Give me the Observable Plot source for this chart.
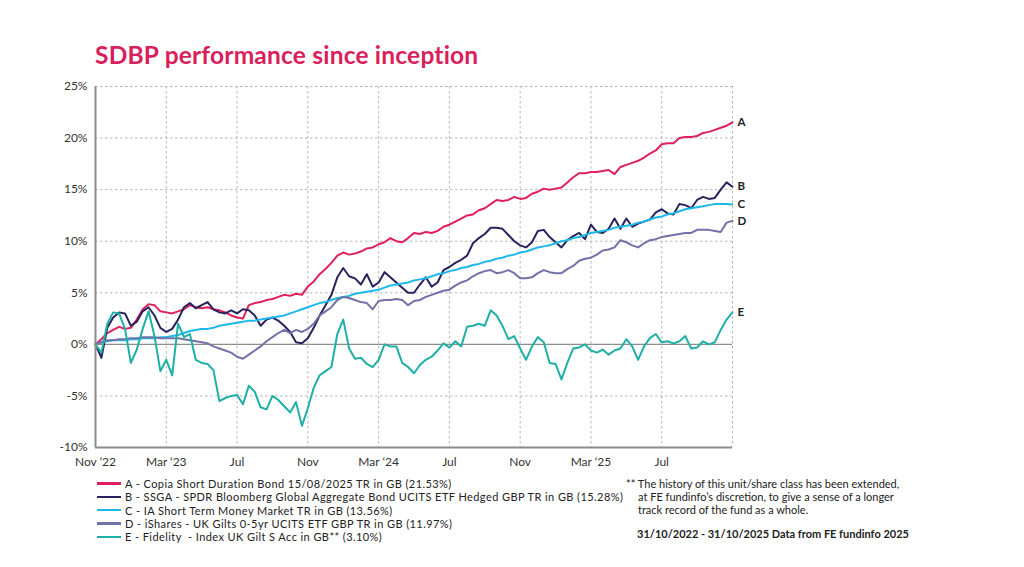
<!DOCTYPE html>
<html><head><meta charset="utf-8">
<script src="https://cdn.jsdelivr.net/npm/d3@7"></script>
<script src="https://cdn.jsdelivr.net/npm/@observablehq/plot@0.6"></script>
<style>
body{margin:0;background:#fff;font-family:Lato,"Open Sans",sans-serif;width:1024px;height:567px;position:relative;overflow:hidden}
#title{position:absolute;left:95px;top:40px;font-size:24.5px;letter-spacing:0.2px;font-weight:700;color:#d91e5c;white-space:nowrap}
#chart{position:absolute;left:0;top:0}
#legend{position:absolute;left:97px;top:477px;font-size:11px;letter-spacing:0.42px;color:#222;line-height:13.3px}
.item{display:flex;align-items:center;white-space:pre;height:13.3px}
.sw{width:24px;height:2.5px;margin-right:4px}
#notes{position:absolute;left:626px;top:477px;font-size:11px;color:#222;line-height:13.2px;white-space:nowrap}
#notes .d{margin-top:10px;margin-left:11px;font-weight:700}
#notes .ind{padding-left:12px}
</style></head><body>
<div id="title">SDBP performance since inception</div>
<div id="chart"></div>
<div id="legend"></div>
<div id="notes">
<div>** The history of this unit/share class has been extended,</div>
<div class="ind">at FE fundinfo’s discretion, to give a sense of a longer</div>
<div class="ind">track record of the fund as a whole.</div>
<div class="d">31/10/2022 - 31/10/2025 Data from FE fundinfo 2025</div>
</div>
<script>
// x: samples every 1/3 month from 31/10/2022 (index i -> i/3 months)
const tickMonths = [0, 4, 8, 12, 16, 20, 24, 28, 32];
const tickLabels = ["Nov ’22", "Mar ‘23", "Jul", "Nov", "Mar ‘24", "Jul", "Nov", "Mar ‘25", "Jul"];
const yTicks = [-10, -5, 0, 5, 10, 15, 20, 25];

const seriesKeys = ["A", "B", "C", "D", "E"];
const seriesNames = [
  "A - Copia Short Duration Bond 15/08/2025 TR in GB (21.53%)",
  "B - SSGA - SPDR Bloomberg Global Aggregate Bond UCITS ETF Hedged GBP TR in GB (15.28%)",
  "C - IA Short Term Money Market TR in GB (13.56%)",
  "D - iShares - UK Gilts 0-5yr UCITS ETF GBP TR in GB (11.97%)",
  "E - Fidelity  - Index UK Gilt S Acc in GB** (3.10%)"
];
const seriesColors = ["#e0205c", "#26235f", "#1fb8ea", "#7271a8", "#1eb0a6"];

const valuesA = [0,0.5,1.1,1.4,1.7,1.5,1.6,2.4,3.4,3.9,3.8,3.2,3.1,3.0,3.2,3.4,3.8,3.6,3.5,3.6,3.4,3.3,3.1,2.8,2.6,2.5,3.8,4.0,4.1,4.3,4.4,4.6,4.8,4.7,4.9,4.8,5.6,6.1,6.8,7.3,7.9,8.6,8.9,8.7,8.8,9.0,9.3,9.4,9.7,9.9,10.3,10.0,9.9,10.3,10.8,10.7,10.9,10.8,11.0,11.4,11.6,11.9,12.2,12.5,12.6,13.0,13.2,13.6,14.0,13.9,14.0,14.3,14.1,14.2,14.6,14.8,15.1,15.0,15.1,15.2,15.7,16.2,16.6,16.6,16.7,16.7,16.8,16.9,16.5,17.2,17.4,17.6,17.8,18.1,18.5,18.8,19.4,19.5,19.5,20.0,20.1,20.1,20.2,20.5,20.6,20.8,21.0,21.2,21.53];
const valuesB = [0,-1.3,1.6,2.6,3.1,3.0,1.8,2.2,3.2,3.6,2.8,1.6,1.2,1.5,2.4,3.6,4.0,3.5,3.8,4.1,3.4,3.1,3.0,3.3,3.0,3.4,3.3,2.8,1.8,2.4,2.6,2.3,1.8,1.2,0.2,0.1,0.6,1.6,2.8,3.8,4.8,6.5,7.4,6.6,6.4,5.8,6.8,5.6,6.0,7.0,6.5,6.0,5.5,5.0,5.0,5.8,6.5,5.6,6.0,7.2,7.5,7.9,8.2,8.6,9.8,10.3,10.7,11.3,11.3,11.2,10.6,10.0,9.6,9.4,9.9,11.0,11.1,10.4,9.9,9.4,10.1,10.5,10.8,10.2,11.6,10.9,10.8,11.2,12.2,11.2,12.2,11.4,11.7,11.9,12.1,12.8,13.1,12.7,12.6,13.6,13.5,13.2,14.0,14.3,14.1,14.2,15.0,15.7,15.28];
const valuesC = [0,0.2,0.3,0.4,0.4,0.4,0.5,0.5,0.6,0.6,0.6,0.7,0.7,0.8,0.9,1.1,1.3,1.4,1.5,1.5,1.6,1.8,1.9,2.0,2.1,2.2,2.3,2.3,2.4,2.5,2.6,2.7,2.8,3.0,3.2,3.4,3.6,3.8,4.0,4.1,4.3,4.5,4.6,4.7,4.9,5.0,5.1,5.2,5.3,5.5,5.7,5.8,5.9,6.0,6.2,6.3,6.4,6.6,6.8,6.9,7.1,7.2,7.4,7.5,7.7,7.8,8.0,8.1,8.3,8.4,8.6,8.7,8.9,9.0,9.2,9.4,9.5,9.6,9.8,10.0,10.1,10.3,10.4,10.6,10.8,10.9,11.0,11.1,11.3,11.4,11.5,11.6,11.8,11.9,12.1,12.3,12.4,12.6,12.7,12.9,13.1,13.2,13.3,13.4,13.5,13.6,13.6,13.6,13.56];
const valuesD = [0,0.2,0.4,0.4,0.5,0.5,0.6,0.6,0.7,0.7,0.7,0.6,0.6,0.6,0.6,0.5,0.4,0.3,0.2,0.1,-0.2,-0.4,-0.6,-0.8,-1.2,-1.4,-1.0,-0.6,-0.2,0.3,0.7,1.1,1.4,1.1,1.4,1.2,1.5,2.0,2.8,3.2,3.6,4.3,4.6,4.5,4.3,4.1,4.0,3.4,4.2,4.3,4.3,4.4,4.3,3.8,4.2,4.3,4.6,4.8,5.0,5.2,5.3,5.7,6.0,6.2,6.6,6.9,7.1,7.2,6.9,7.0,7.2,6.9,6.4,6.4,6.5,6.9,7.2,7.0,6.9,6.9,7.3,7.6,8.1,8.3,8.4,8.7,9.1,9.2,9.4,10.1,9.9,9.6,9.4,9.8,10.1,10.2,10.4,10.5,10.6,10.7,10.8,10.8,11.1,11.1,11.1,11.0,10.9,11.8,11.97];
const valuesE = [0,-0.8,2.0,3.1,3.0,1.5,-1.8,-0.5,1.5,3.2,0.8,-2.6,-1.5,-3.0,2.0,0.7,1.0,-1.5,-1.8,-1.9,-2.5,-5.5,-5.2,-5.0,-4.9,-5.8,-4.0,-4.6,-6.1,-6.3,-5.0,-5.4,-6.0,-6.6,-5.6,-7.9,-6.2,-4.2,-3.0,-2.6,-2.2,1.0,2.4,-0.4,-1.4,-1.3,-1.9,-2.2,-1.5,0.0,-0.2,-0.2,-1.8,-2.2,-2.8,-2.0,-1.5,-1.2,-0.6,0.1,-0.3,0.3,-0.2,1.7,1.8,2.0,1.8,3.3,2.8,1.8,0.5,0.8,-0.4,-1.5,-0.2,0.7,0.2,-1.8,-1.9,-3.4,-1.8,-0.4,-0.3,0.0,-0.6,-0.8,-0.5,-1.0,-0.6,-0.4,0.5,-0.2,-1.5,-0.2,0.6,1.0,0.2,0.3,0.1,0.3,0.8,-0.4,-0.3,0.3,0.0,0.2,1.4,2.4,3.1];

const allValues = [valuesA, valuesB, valuesC, valuesD, valuesE];
const rows = [];
allValues.forEach((vals, s) => vals.forEach((v, i) => rows.push({series: seriesKeys[s], t: i / 3, v})));
const lastRows = allValues.map((vals, s) => ({series: seriesKeys[s], t: (vals.length - 1) / 3, v: vals[vals.length - 1]}));

const plot = Plot.plot({
  width: 1024,
  height: 478,
  marginLeft: 95,
  marginRight: 292,
  marginTop: 86,
  marginBottom: 31,
  style: {fontFamily: "Lato, sans-serif", fontSize: "12px", color: "#333", background: "transparent"},
  x: {domain: [0, 36], label: null},
  y: {domain: [-10, 25], label: null},
  color: {domain: seriesKeys, range: seriesColors},
  marks: [
    Plot.ruleY([-5, 5, 10, 15, 20, 25], {stroke: "#b5b5b5", strokeDasharray: "2.5,2.5", strokeWidth: 1}),
    Plot.ruleX([4, 8, 12, 16, 20, 24, 28, 32, 36], {stroke: "#b5b5b5", strokeDasharray: "2.5,2.5", strokeWidth: 1}),
    Plot.ruleY([0], {stroke: "#8c8c8c", strokeWidth: 1.2}),
    Plot.lineY(rows, {x: "t", y: "v", z: "series", stroke: "series", strokeWidth: 2, curve: "linear"}),
    Plot.ruleX([0], {stroke: "#8c8c8c", strokeWidth: 2}),
    Plot.ruleY([-10], {stroke: "#8c8c8c", strokeWidth: 2}),
    Plot.text(lastRows, {x: "t", y: "v", text: "series", dx: 5, textAnchor: "start", fill: "#222", fontWeight: 700, fontSize: 11.5}),
    Plot.axisY({ticks: yTicks, tickSize: 0, tickPadding: 8, label: null, tickFormat: d => d + "%", fontSize: 12, fill: "#333"}),
    Plot.axisX({ticks: tickMonths, tickSize: 0, tickPadding: 10, label: null, tickFormat: (d) => tickLabels[tickMonths.indexOf(d)], fontSize: 12, fill: "#333"})
  ]
});
document.getElementById("chart").appendChild(plot);

const legend = document.getElementById("legend");
seriesNames.forEach((name, i) => {
  const item = document.createElement("div");
  item.className = "item";
  const sw = document.createElement("span");
  sw.className = "sw";
  sw.style.background = seriesColors[i];
  const tx = document.createElement("span");
  tx.textContent = name;
  item.appendChild(sw); item.appendChild(tx);
  legend.appendChild(item);
});
</script>
</body></html>
